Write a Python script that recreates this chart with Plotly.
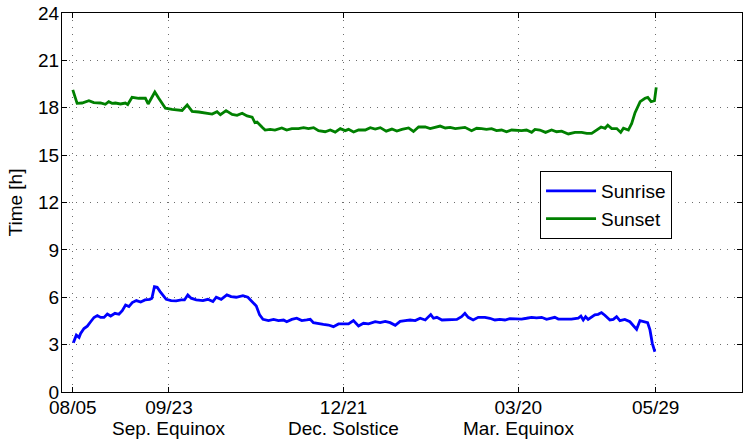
import plotly.graph_objects as go

# ---- data (x = days since 08/05, y = hour of day) ----
sunset_day = [0, 2.2, 4.7, 8.2, 10.7, 14.1, 16.6, 18.3, 20, 21.7, 24.3, 26.8, 28, 30.2, 33.6, 37, 38.4, 40.1,
              41.8, 43.8, 45.5, 47.2, 50.6, 54, 55.7, 58.3, 60.8, 64.2, 67.6, 71, 73.5, 75.2, 78.1, 81.2, 83.7,
              86.3, 88.8, 91.4, 92.8, 93.9, 96.5, 98, 100.6, 103, 106.5, 109, 111.6, 115, 117.6, 120.1, 122.7,
              125.2, 128.6, 131.2, 133.7, 136.3, 138.8, 140.5, 143.1, 145.6, 149, 151.6, 154.1, 156.7, 159.7,
              162.6, 165.1, 167.7, 171.1, 173.6, 176.2, 179.6, 182.1, 184.7, 187.2, 189.8, 192.3, 194.9, 197.4,
              199.8, 203.2, 205.8, 208.3, 210.8, 213.4, 215.9, 218.5, 221, 223.6, 226.1, 228.7, 231.2, 233.8,
              235.5, 238, 240.9, 244, 246.5, 249.1, 252.5, 255.9, 259.3, 261.9, 264.4, 267, 269.2, 271.2, 272.6,
              274.6, 277.2, 279.2, 280.6, 283.1, 284.8, 286.5, 289.1, 291.6, 293, 294.7, 296.4, 297.3]
sunset_h = [19.13, 18.28, 18.3, 18.45, 18.33, 18.3, 18.22, 18.38, 18.28, 18.3, 18.24, 18.3, 18.2, 18.66, 18.6,
            18.6, 18.24, 18.6, 19.0, 18.6, 18.32, 17.97, 17.9, 17.87, 17.83, 18.18, 17.77, 17.73, 17.65, 17.6,
            17.75, 17.56, 17.82, 17.58, 17.52, 17.65, 17.48, 17.4, 17.06, 17.1, 16.76, 16.59, 16.63, 16.59,
            16.72, 16.59, 16.68, 16.68, 16.74, 16.68, 16.74, 16.55, 16.48, 16.59, 16.46, 16.68, 16.55, 16.63,
            16.46, 16.59, 16.59, 16.74, 16.65, 16.74, 16.52, 16.65, 16.52, 16.63, 16.72, 16.5, 16.78, 16.78,
            16.68, 16.78, 16.84, 16.72, 16.76, 16.68, 16.7, 16.76, 16.55, 16.7, 16.68, 16.63, 16.68, 16.55,
            16.59, 16.48, 16.59, 16.57, 16.55, 16.59, 16.44, 16.63, 16.59, 16.44, 16.59, 16.48, 16.52, 16.34,
            16.44, 16.44, 16.38, 16.38, 16.59, 16.78, 16.7, 16.89, 16.68, 16.68, 16.44, 16.7, 16.59, 17.01,
            17.69, 18.39, 18.6, 18.66, 18.39, 18.45, 19.29]

sunrise_day = [0.3, 1.8, 3.2, 4.0, 5.7, 7.4, 9.1, 10.8, 12.5, 14.2, 15.9, 17.6, 19.3, 21.5, 23.5, 25.2, 26.9,
               28.6, 30.3, 32.4, 34.6, 36.8, 39.2, 40.3, 41.6, 43, 44.5, 45.9, 47.6, 50.1, 52.7, 55.2, 56.9,
               58.6, 60.3, 62.9, 66.3, 68.8, 71.4, 73.1, 75.6, 78.5, 80.7, 83.3, 86.7, 89.2, 91.8, 93.5, 95.2,
               96.9, 99.7, 102.3, 104.8, 107.4, 109, 111.6, 114.1, 116.7, 119.2, 121, 122.6, 125.2, 127.7,
               130.3, 132.8, 135.4, 137.9, 140.5, 143, 145.6, 148.1, 150.7, 154.1, 156.6, 159.2, 161.7, 164.3,
               166.8, 169.4, 171.9, 174.5, 177, 179.6, 181.3, 182.4, 183.8, 185.5, 188.1, 190.6, 193.2, 195.7,
               198.1, 199.8, 201.5, 204, 206.6, 210, 212.5, 215.1, 217.6, 220.2, 222.7, 225.3, 228.7, 231.2,
               233.8, 236.3, 238.9, 241.4, 244, 245.6, 247.4, 250.7, 254.1, 257.5, 258.9, 260.1, 261.3, 262.6,
               264.3, 266, 267.7, 269.4, 271.1, 273.7, 275.4, 277.1, 278.8, 281.3, 283.9, 285.6, 287.3, 289,
               290.7, 292.9, 294.1, 295.3, 296.6]
sunrise_h = [3.12, 3.6, 3.46, 3.71, 4.02, 4.17, 4.45, 4.72, 4.84, 4.72, 4.72, 4.94, 4.81, 4.98, 4.92, 5.15, 5.51,
             5.41, 5.66, 5.79, 5.7, 5.83, 5.87, 5.94, 6.67, 6.63, 6.36, 6.15, 5.87, 5.79, 5.77, 5.83, 5.83,
             6.15, 5.94, 5.83, 5.79, 5.87, 5.73, 6.0, 5.87, 6.15, 6.04, 6.0, 6.1, 6.0, 5.66, 5.45, 4.88,
             4.6, 4.52, 4.6, 4.52, 4.56, 4.45, 4.6, 4.67, 4.52, 4.56, 4.6, 4.39, 4.31, 4.28,
             4.24, 4.14, 4.31, 4.31, 4.31, 4.52, 4.18, 4.35, 4.31, 4.45, 4.39, 4.47, 4.39, 4.22,
             4.47, 4.52, 4.56, 4.52, 4.67, 4.56, 4.77, 4.9, 4.67, 4.73, 4.56, 4.56, 4.56, 4.6,
             4.77, 4.98, 4.73, 4.56, 4.73, 4.73, 4.67, 4.56, 4.6, 4.56, 4.65, 4.62, 4.62, 4.67,
             4.73, 4.7, 4.73, 4.6, 4.67, 4.73, 4.62, 4.62, 4.62, 4.67, 4.81, 4.56, 4.77, 4.6,
             4.77, 4.88, 4.92, 5.03, 4.86, 4.56, 4.6, 4.77, 4.52, 4.6, 4.45, 4.24, 3.97, 4.52,
             4.45, 4.39, 3.93, 3.08, 2.55]

x_tick_days = [0, 49, 138, 227, 297]
x_tick_dates = ["08/05", "09/23", "12/21", "03/20", "05/29"]
x_tick_events = ["", "Sep. Equinox", "Dec. Solstice", "Mar. Equinox", ""]
y_ticks = [0, 3, 6, 9, 12, 15, 18, 21, 24]

FONT = "Liberation Sans, Arial, Helvetica, sans-serif"
FS = 19

fig = go.Figure()
fig.add_trace(go.Scatter(x=sunrise_day, y=sunrise_h, mode="lines", name="Sunrise",
                         line=dict(color="#0000ff", width=2.8)))
fig.add_trace(go.Scatter(x=sunset_day, y=sunset_h, mode="lines", name="Sunset",
                         line=dict(color="#008000", width=2.8)))

for d, ev in zip(x_tick_days, x_tick_events):
    if ev:
        fig.add_annotation(x=d, xref="x", y=0, yref="paper", yanchor="top", yshift=-24,
                           text=ev, showarrow=False, font=dict(family=FONT, size=FS, color="black"))

axis_common = dict(showline=True, linecolor="black", linewidth=1, mirror="ticks",
                   ticks="inside", ticklen=5, tickcolor="black", tickwidth=1,
                   showgrid=True, gridcolor="rgba(60,60,60,0.75)", gridwidth=1, griddash="1px,6px",
                   zeroline=False, tickfont=dict(family=FONT, size=FS, color="black"))

fig.update_xaxes(range=[-5.5, 341], tickmode="array", tickvals=x_tick_days, ticktext=x_tick_dates,
                 ticklabelstandoff=-2, **axis_common)
fig.update_yaxes(range=[0, 24], tickmode="array", tickvals=y_ticks,
                 ticktext=[str(v) for v in y_ticks], ticklabelstandoff=-2,
                 title=dict(text="Time [h]", font=dict(family=FONT, size=FS, color="black"), standoff=10),
                 **axis_common)

fig.update_layout(
    width=746, height=440,
    margin=dict(l=62, r=4, t=13, b=48, autoexpand=False),
    paper_bgcolor="white", plot_bgcolor="white",
    font=dict(family=FONT, size=FS, color="black"),
    showlegend=True,
    legend=dict(x=0.703, y=0.583, xanchor="left", yanchor="top",
                bgcolor="white", bordercolor="black", borderwidth=1,
                font=dict(family=FONT, size=FS, color="black"), itemwidth=50,
                entrywidth=76, tracegroupgap=0),
)

fig.write_html("out.html", config={"displayModeBar": False},
               post_script="document.body.style.margin='0';document.body.style.overflow='hidden';")
